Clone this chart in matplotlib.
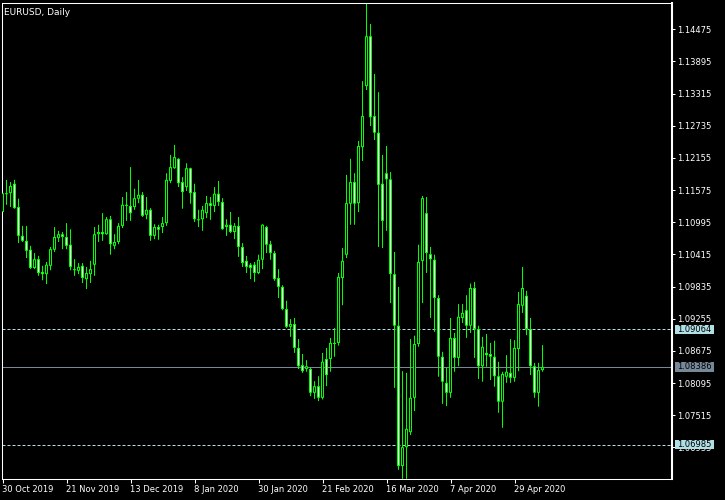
import matplotlib
matplotlib.use("Agg")
import matplotlib.pyplot as plt
from matplotlib.patches import Rectangle
from matplotlib import transforms

plt.rcParams['font.family'] = ['DejaVu Sans']

title = "EURUSD, Daily"

opens = [1.1118, 1.1152, 1.1152, 1.1169, 1.1127, 1.1075, 1.1066, 1.1050, 1.1017, 1.1033,
         1.1010, 1.1006, 1.1021, 1.1050, 1.1071, 1.1078, 1.1073, 1.1059, 1.1015, 1.1012,
         1.1021, 1.0997, 1.1006, 1.1023, 1.1078, 1.1082, 1.1078, 1.1105, 1.1057, 1.1064,
         1.1093, 1.1131, 1.1129, 1.1127, 1.1142, 1.1149, 1.1113, 1.1122, 1.1075, 1.1091,
         1.1091, 1.1098, 1.1174, 1.1197, 1.1214, 1.1172, 1.1163, 1.1197, 1.1154, 1.1103,
         1.1105, 1.1116, 1.1134, 1.1129, 1.1151, 1.1136, 1.1091, 1.1095, 1.1082, 1.1093,
         1.1055, 1.1030, 1.1023, 1.1023, 1.1008, 1.1032, 1.1091, 1.1060, 1.1044, 1.0999,
         1.0983, 1.0943, 1.0911, 1.0916, 1.0873, 1.0842, 1.0835, 1.0835, 1.0792, 1.0804,
         1.0783, 1.0853, 1.0853, 1.0882, 1.0882, 1.0999, 1.1041, 1.1133, 1.1172, 1.1134,
         1.1235, 1.1345, 1.1435, 1.1291, 1.1261, 1.1169, 1.1188, 1.1177, 1.1006, 1.0913,
         1.0660, 1.0694, 1.0721, 1.0783, 1.0880, 1.1030, 1.1116, 1.1042, 1.1032, 1.0963,
         1.0857, 1.0810, 1.0792, 1.0891, 1.0855, 1.0927, 1.0941, 1.0913, 1.0981, 1.0907,
         1.0840, 1.0864, 1.0862, 1.0857, 1.0822, 1.0776, 1.0821, 1.0828, 1.0819, 1.0871,
         1.0949, 1.0967, 1.0907, 1.0840, 1.0792, 1.0833]
highs = [1.1167, 1.1176, 1.1172, 1.1176, 1.1142, 1.1093, 1.1093, 1.1057, 1.1044, 1.1039,
         1.1021, 1.1028, 1.1055, 1.1091, 1.1084, 1.1082, 1.1098, 1.1087, 1.1033, 1.1026,
         1.1026, 1.1019, 1.1030, 1.1091, 1.1095, 1.1116, 1.1109, 1.1111, 1.1078, 1.1098,
         1.1145, 1.1154, 1.1199, 1.1160, 1.1176, 1.1154, 1.1145, 1.1125, 1.1096, 1.1095,
         1.1109, 1.1188, 1.1221, 1.1239, 1.1215, 1.1181, 1.1206, 1.1198, 1.1169, 1.1122,
         1.1129, 1.1147, 1.1145, 1.1163, 1.1174, 1.1143, 1.1105, 1.1118, 1.1098, 1.1109,
         1.1062, 1.1039, 1.1026, 1.1028, 1.1041, 1.1096, 1.1093, 1.1066, 1.1048, 1.1015,
         1.0986, 1.0958, 1.0925, 1.0927, 1.0889, 1.0862, 1.0851, 1.0837, 1.0813, 1.0822,
         1.0864, 1.0873, 1.0891, 1.0909, 1.1008, 1.1053, 1.1185, 1.1214, 1.1188, 1.1246,
         1.1354, 1.1495, 1.1457, 1.1367, 1.1334, 1.1221, 1.1237, 1.1190, 1.1046, 1.0983,
         1.0831, 1.0828, 1.0889, 1.0895, 1.1059, 1.1147, 1.1145, 1.1055, 1.1041, 1.0968,
         1.0866, 1.0837, 1.0927, 1.0900, 1.0952, 1.0952, 1.0968, 1.0989, 1.0992, 1.0913,
         1.0893, 1.0898, 1.0882, 1.0886, 1.0848, 1.0830, 1.0860, 1.0889, 1.0887, 1.0974,
         1.1019, 1.0976, 1.0927, 1.0846, 1.0846, 1.0878]
lows = [1.1111, 1.1131, 1.1127, 1.1124, 1.1062, 1.1064, 1.1035, 1.1015, 1.1015, 1.1003,
        1.0995, 1.0988, 1.1013, 1.1046, 1.1064, 1.1051, 1.1051, 1.1013, 1.1003, 1.1006,
        1.0990, 1.0979, 1.0990, 1.1003, 1.1064, 1.1066, 1.1077, 1.1041, 1.1051, 1.1060,
        1.1089, 1.1102, 1.1102, 1.1122, 1.1134, 1.1109, 1.1105, 1.1066, 1.1069, 1.1068,
        1.1080, 1.1093, 1.1170, 1.1196, 1.1163, 1.1124, 1.1156, 1.1133, 1.1100, 1.1091,
        1.1084, 1.1107, 1.1104, 1.1118, 1.1129, 1.1086, 1.1075, 1.1080, 1.1069, 1.1037,
        1.1019, 1.1008, 1.0997, 1.0992, 1.1006, 1.1015, 1.1044, 1.1032, 1.0994, 1.0963,
        1.0941, 1.0909, 1.0893, 1.0864, 1.0835, 1.0828, 1.0830, 1.0786, 1.0781, 1.0777,
        1.0780, 1.0804, 1.0830, 1.0857, 1.0877, 1.0950, 1.1035, 1.1095, 1.1095, 1.1118,
        1.1210, 1.1338, 1.1273, 1.1248, 1.1055, 1.1053, 1.1084, 1.0954, 1.0801, 1.0653,
        1.0637, 1.0637, 1.0716, 1.0759, 1.0875, 1.0954, 1.1008, 1.0927, 1.0902, 1.0821,
        1.0772, 1.0768, 1.0783, 1.0830, 1.0840, 1.0918, 1.0891, 1.0900, 1.0855, 1.0817,
        1.0812, 1.0839, 1.0815, 1.0803, 1.0756, 1.0729, 1.0810, 1.0810, 1.0812, 1.0831,
        1.0936, 1.0896, 1.0824, 1.0783, 1.0767, 1.0830]
closes = [1.1152, 1.1150, 1.1165, 1.1125, 1.1075, 1.1066, 1.1048, 1.1017, 1.1033, 1.1008,
          1.1006, 1.1023, 1.1051, 1.1073, 1.1078, 1.1073, 1.1057, 1.1019, 1.1013, 1.1019,
          1.0999, 1.1008, 1.1015, 1.1078, 1.1082, 1.1078, 1.1105, 1.1060, 1.1064, 1.1093,
          1.1131, 1.1129, 1.1116, 1.1143, 1.1149, 1.1111, 1.1122, 1.1075, 1.1091, 1.1086,
          1.1098, 1.1176, 1.1199, 1.1217, 1.1170, 1.1154, 1.1197, 1.1152, 1.1105, 1.1105,
          1.1122, 1.1134, 1.1129, 1.1151, 1.1136, 1.1087, 1.1095, 1.1082, 1.1093, 1.1055,
          1.1026, 1.1019, 1.1017, 1.1008, 1.1032, 1.1095, 1.1059, 1.1044, 1.0997, 1.0983,
          1.0943, 1.0911, 1.0916, 1.0873, 1.0840, 1.0831, 1.0840, 1.0792, 1.0804, 1.0783,
          1.0848, 1.0824, 1.0882, 1.0880, 1.1001, 1.1030, 1.1134, 1.1172, 1.1133, 1.1237,
          1.1291, 1.1435, 1.1289, 1.1261, 1.1167, 1.1102, 1.1177, 1.1006, 1.0913, 1.0660,
          1.0694, 1.0727, 1.0783, 1.0880, 1.1028, 1.1143, 1.1044, 1.1033, 1.0963, 1.0857,
          1.0812, 1.0792, 1.0891, 1.0855, 1.0929, 1.0936, 1.0913, 1.0981, 1.0907, 1.0840,
          1.0875, 1.0860, 1.0857, 1.0822, 1.0776, 1.0826, 1.0830, 1.0819, 1.0873, 1.0952,
          1.0981, 1.0907, 1.0840, 1.0792, 1.0833, 1.08386]

date_tick_bars = [0, 16, 32, 48, 64, 80, 96, 112, 128]
date_tick_labels = ["30 Oct 2019", "21 Nov 2019", "13 Dec 2019", "8 Jan 2020",
                    "30 Jan 2020", "21 Feb 2020", "16 Mar 2020", "7 Apr 2020", "29 Apr 2020"]
price_ticks = [1.14475, 1.13895, 1.13315, 1.12735, 1.12155, 1.11575, 1.10995,
               1.10415, 1.09835, 1.09255, 1.08675, 1.08095, 1.07515, 1.06935]
level_prices = [1.09064, 1.06985]
bid_price = 1.08386

price_min, price_max = 1.06366, 1.14949

W, H = 725, 500
fig = plt.figure(figsize=(W / 100, H / 100), dpi=100, facecolor='black')
ax_l, ax_r, ax_t, ax_b = 2, 672, 3, 479
ax = fig.add_axes([ax_l / W, (H - ax_b) / H, (ax_r - ax_l) / W, (ax_b - ax_t) / H])
ax.set_facecolor('black')

bar_px = 4.0
x_left = -0.5 / bar_px
x_right = x_left + (ax_r - ax_l) / bar_px
ax.set_xlim(x_left, x_right)
ax.set_ylim(price_min, price_max)
py = (price_max - price_min) / (ax_b - ax_t)   # one pixel in price units
px = 1.0 / bar_px                                # one pixel in bar units

green = '#00ff00'
n = len(opens)
xs = list(range(n))

# wicks
wl = ax.vlines(xs, lows, highs, color=green, linewidth=0.72, zorder=2)
wl.set_snap(False)

# bodies: green outer rectangle 3px wide, inner fill 1px wide
outer_bottom, outer_h, inner_x, inner_bottom, inner_h, inner_col = [], [], [], [], [], []
for i, (o, c) in enumerate(zip(opens, closes)):
    lo, hi = min(o, c), max(o, c)
    h = max(hi - lo, py)
    outer_bottom.append(lo)
    outer_h.append(h)
    if hi - lo > 2.2 * py:
        inner_x.append(i)
        inner_bottom.append(lo + py)
        inner_h.append(hi - lo - 2 * py)
        inner_col.append('white' if c < o else 'black')
outer = ax.bar(xs, outer_h, bottom=outer_bottom, width=3 * px, color=green, linewidth=0,
               zorder=3)
inner = ax.bar(inner_x, inner_h, bottom=inner_bottom, width=1 * px, color=inner_col,
               linewidth=0, zorder=4)
for r in list(outer) + list(inner):
    r.set_snap(False)

lvl_color = '#b0dce8'
bid_color = '#778899'
for p in level_prices:
    ax.axhline(p, color=lvl_color, linewidth=0.72, linestyle=(0, (3, 2)), zorder=1)
ax.axhline(bid_price, color=bid_color, linewidth=0.72, zorder=1)

for s in ax.spines.values():
    s.set_color('white')
    s.set_linewidth(0.75)
ax.spines['right'].set_linewidth(1.5)

ax.yaxis.tick_right()
ax.set_yticks(price_ticks)
ax.set_yticklabels([f"{p:.5f}" for p in price_ticks])
ax.tick_params(axis='y', colors='white', labelsize=6, length=2.5, width=0.75, pad=1.5,
               direction='out')
ax.set_xticks(date_tick_bars)
ax.set_xticklabels(date_tick_labels)
ax.tick_params(axis='x', colors='white', labelsize=6, length=3, width=0.75, pad=1,
               direction='out')
for lbl in ax.get_xticklabels():
    lbl.set_ha('left')

# price label boxes
blend = transforms.blended_transform_factory(ax.transAxes, ax.transData)
box_h = 9.5 * py
box_x0 = (675 - ax_l) / (ax_r - ax_l)
box_w = 39 / (ax_r - ax_l)
for p, fc in [(level_prices[0], '#b0e0e6'), (level_prices[1], '#b0e0e6'), (bid_price, bid_color)]:
    ax.add_patch(Rectangle((box_x0, p - box_h / 2), box_w, box_h, transform=blend,
                           facecolor=fc, edgecolor='none', clip_on=False, zorder=10))
    ax.text((677 - ax_l) / (ax_r - ax_l), p, f"{p:.5f}", transform=blend, color='black',
            fontsize=6, ha='left', va='center', clip_on=False, zorder=11)

fig.text(4 / W, 1 - 15 / H, title, color='white', fontsize=6.5, ha='left', va='baseline')

fig.savefig('out.png', dpi=100, facecolor='black')
